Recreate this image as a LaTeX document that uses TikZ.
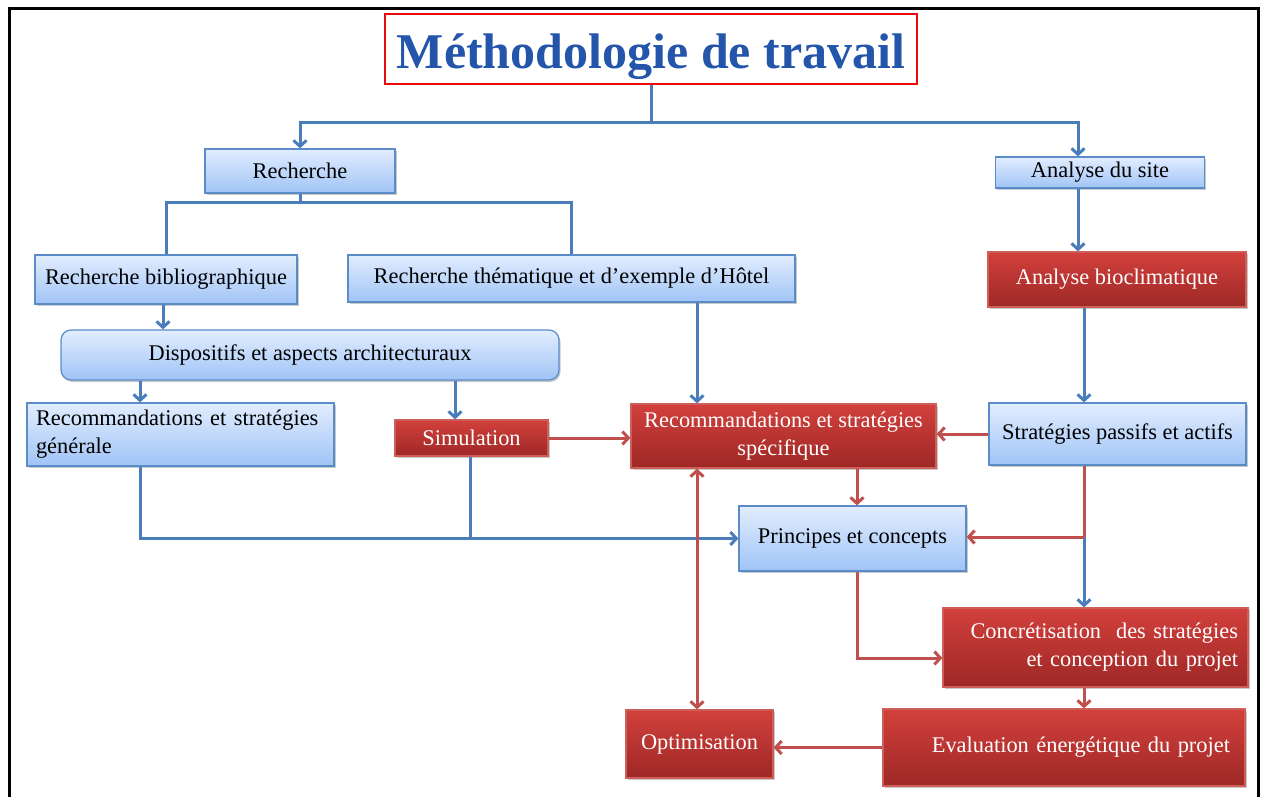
\documentclass[tikz,border=0pt]{standalone}
\usepackage{fontspec}
\setmainfont{Liberation Serif}
\usetikzlibrary{arrows.meta,shadows,calc}
\definecolor{bline}{RGB}{74,126,187}
\definecolor{rline}{RGB}{192,80,77}
\definecolor{btop}{RGB}{226,237,255}
\definecolor{bbot}{RGB}{160,196,246}
\definecolor{bdraw}{RGB}{90,140,200}
\definecolor{rtop}{RGB}{210,64,60}
\definecolor{rbot}{RGB}{158,40,38}
\definecolor{rdraw}{RGB}{205,95,90}
\definecolor{ttl}{RGB}{35,85,170}
\definecolor{ttlred}{RGB}{235,10,10}
\begin{document}
\begin{tikzpicture}[x=1pt,y=-1pt,
 box/.style={line width=1.2pt, inner sep=0pt, drop shadow={shadow xshift=1.5pt,shadow yshift=-2pt,opacity=0.35,fill=black!60}, font=\fontsize{22.4}{28}\selectfont},
 bluebox/.style={box, draw=bdraw, top color=btop, bottom color=bbot, text=black},
 redbox/.style={box, draw=rdraw, top color=rtop, bottom color=rbot, text=white},
 bl/.style={draw=bline, line width=3pt},
 rl/.style={draw=rline, line width=3pt},
 tip/.style={-{Straight Barb[length=6pt,width=13pt]}},
 dtip/.style={{Straight Barb[length=6pt,width=13pt]}-{Straight Barb[length=6pt,width=13pt]}},
]
\fill[white] (0,0) rectangle (1261,797);
\useasboundingbox (0,0) rectangle (1261,797);
\draw[line width=3pt] (9,797) -- (9,9) -- (1258,9) -- (1258,797);

% nodes
\node[draw=ttlred, line width=2.5pt, minimum width=532pt, minimum height=70pt, inner sep=0pt, text height=40pt, text depth=0pt, text=ttl, font=\fontsize{50}{56}\selectfont\bfseries] (title) at (651,49) {Méthodologie de travail};
\node[bluebox, minimum width=190pt, minimum height=44pt] (rech) at (300,171) {Recherche};
\node[bluebox, minimum width=209pt, minimum height=31pt] (site) at (1100,172.5) {Analyse du site};
\node[bluebox, minimum width=262pt, minimum height=49pt] (biblio) at (166,279.5) {Recherche bibliographique};
\node[bluebox, minimum width=447pt, minimum height=47pt] (them) at (571.5,278.5) {Recherche thématique et d’exemple d'Hôtel};
\node[redbox, minimum width=258pt, minimum height=55pt] (bio) at (1117,279.5) {Analyse bioclimatique};
\node[bluebox, rounded corners=10pt, minimum width=498pt, minimum height=50pt] (disp) at (310,355) {Dispositifs et aspects architecturaux};
\node[bluebox, minimum width=307pt, minimum height=63pt, text width=289pt, inner xsep=9pt, align=left] (recog) at (180.5,434.5) {Recommandations et stratégies\\générale};
\node[redbox, minimum width=153pt, minimum height=36pt] (simu) at (471.5,438) {Simulation};
\node[redbox, minimum width=305pt, minimum height=64pt, align=center] (recos) at (783.5,436) {Recommandations et stratégies\\spécifique};
\node[bluebox, minimum width=257pt, minimum height=62pt] (strat) at (1117.5,434) {Stratégies passifs et actifs};
\node[bluebox, minimum width=227pt, minimum height=65pt] (princ) at (852.5,538.5) {Principes et concepts};
\node[redbox, minimum width=305pt, minimum height=79pt, text width=285pt, inner xsep=10pt, align=right] (concr) at (1095.5,647.5) {Concrétisation\ \ des stratégies\\et conception du projet};
\node[redbox, minimum width=362pt, minimum height=77pt, text width=332pt, inner xsep=15pt, align=right] (eval) at (1064,747.5) {Evaluation énergétique du projet};
\node[redbox, minimum width=147pt, minimum height=68pt] (optim) at (699.5,744) {Optimisation};

% helper coordinates
\coordinate (j0) at (651,123);
\coordinate (j1) at (300,202);
\coordinate (xa) at (1078,0);
\coordinate (j5) at (1084,537);
\coordinate (xd) at (697,0);
\coordinate (xe) at (857,0);
\coordinate (yf) at (0,658);
\coordinate (xg) at (163,0);
\coordinate (xh) at (140,0);
\coordinate (xi) at (455,0);
\coordinate (xk) at (470,0);

% blue connectors
\draw[bl] (title.south) -- (j0);
\draw[bl,tip] (j0) -| (rech.north);
\draw[bl,tip] (j0) -| (site.north -| xa);
\draw[bl] (rech.south) -- (j1);
\draw[bl] (j1) -| (biblio.north);
\draw[bl] (j1) -| (them.north);
\draw[bl,tip] (site.south -| xa) -- (bio.north -| xa);
\draw[bl,tip] (bio.south -| j5) -- (strat.north -| j5);
\draw[bl,tip] (biblio.south -| xg) -- (disp.north -| xg);
\draw[bl,tip] (disp.south -| xh) -- (recog.north -| xh);
\draw[bl,tip] (disp.south -| xi) -- (simu.north -| xi);
\draw[bl,tip] (them.south -| xd) -- (recos.north -| xd);
\draw[bl,tip] (recog.south -| xh) |- (princ.west);
\draw[bl] (simu.south -| xk) -- (princ.west -| xk);
\draw[bl,tip] (j5) -- (concr.north -| j5);

% red connectors
\draw[rl,tip] (simu.east) -- (recos.west |- simu.east);
\draw[rl,tip] (strat.west) -- (recos.east |- strat.west);
\draw[rl,tip] (recos.south -| xe) -- (princ.north -| xe);
\draw[rl] (strat.south -| j5) -- (j5);
\draw[rl,tip] (j5) -- (princ.east |- j5);
\draw[rl,tip] (princ.south -| xe) |- (concr.west |- yf);
\draw[rl,tip] (concr.south -| j5) -- (eval.north -| j5);
\draw[rl,tip] (eval.west) -- (optim.east |- eval.west);
\draw[rl,dtip] (recos.south -| xd) -- (optim.north -| xd);
\end{tikzpicture}
\end{document}
